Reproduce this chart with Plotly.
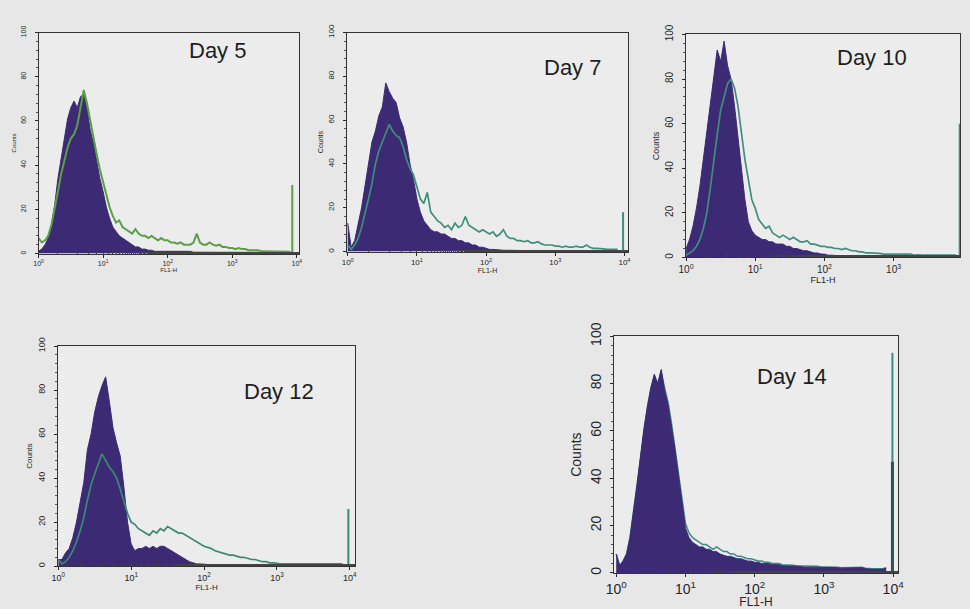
import plotly.graph_objects as go

# ---------------- data ----------------
DAYS = ["Day 5", "Day 7", "Day 10", "Day 12", "Day 14"]

# log10(FL1-H) channel positions
LOG_CH = [0.00, 0.05, 0.10, 0.15, 0.20, 0.25, 0.30, 0.35, 0.40, 0.45,
          0.50, 0.55, 0.60, 0.65, 0.70, 0.75, 0.80, 0.85, 0.90, 0.95,
          1.00, 1.05, 1.10, 1.15, 1.20, 1.25, 1.30, 1.35, 1.40, 1.45,
          1.50, 1.55, 1.60, 1.65, 1.70, 1.75, 1.80, 1.85, 1.90, 1.95,
          2.00, 2.05, 2.10, 2.15, 2.20, 2.25, 2.30, 2.35, 2.40, 2.45,
          2.50, 2.55, 2.60, 2.65, 2.70, 2.75, 2.80, 2.85, 2.90, 2.95,
          3.00, 3.05, 3.10, 3.15, 3.20, 3.25, 3.30, 3.35, 3.40, 3.45,
          3.50, 3.55, 3.60, 3.65, 3.70, 3.75, 3.80, 3.85, 3.90]

PURPLE_D5 = [1, 2, 4, 7, 13, 22, 34, 43, 52, 61,
             66, 69, 66, 71, 72, 66, 56, 50, 42, 34,
             28, 21, 16, 12, 10, 8, 7, 6, 5, 4,
             3, 3, 2, 2, 1.5, 1.5, 1, 1, 1, 1,
             1, 1, 1, 0.8, 1, 0.8, 0.8, 1, 0.6, 0.6,
             0.6, 0.5, 0.5, 0.5, 0.5, 0.5, 0.5, 0.5, 0.5, 0.5,
             0.5, 0.5, 0.5, 0.5, 0.5, 0.5, 0.5, 0.5, 0.5, 0.5,
             0.5, 0.5, 0.5, 0.5, 0.5, 0.5, 0.5, 0.5, 0.5]
GREEN_D5 = [7, 5, 6, 8, 13, 20, 28, 36, 42, 48,
            52, 54, 58, 66, 74, 68, 60, 53, 45, 38,
            32, 26, 21, 17, 14, 15, 12, 11, 10, 9,
            11, 9, 8, 8, 7, 8, 7, 6, 7, 6,
            6, 5, 5, 4.5, 5, 4, 4, 4, 5, 9,
            5, 4, 4, 5, 4, 3.5, 4, 3, 3, 2.5,
            2.5, 2, 2.5, 2, 2, 1.5, 1.5, 1.5, 1.5, 1,
            1, 1, 1, 0.8, 0.8, 0.8, 0.8, 0.8, 0.8]

PURPLE_D7 = [13, 2, 5, 12, 20, 30, 40, 50, 55, 62,
             66, 77, 73, 70, 68, 61, 57, 50, 40, 33,
             24, 18, 14, 12, 10, 9, 9, 8, 8, 7,
             6, 6, 5, 5, 4, 4, 3, 3, 2, 2,
             1.5, 1, 1, 0.8, 0.8, 0.6, 0.6, 0.5, 0.5, 0.5,
             0.5, 0.5, 0.5, 0.5, 0.5, 0.5, 0.5, 0.5, 0.5, 0.5,
             0.5, 0.5, 0.5, 0.5, 0.5, 0.5, 0.5, 0.5, 0.5, 0.5,
             0.5, 0.5, 0.5, 0.5, 0.5, 0.5, 0.5, 0.5, 0.5]
GREEN_D7 = [3, 1, 3, 6, 11, 17, 24, 31, 40, 46,
            50, 54, 58, 55, 53, 52, 48, 42, 38, 35,
            30, 24, 22, 27, 18, 16, 14, 13, 11, 12,
            10, 13, 11, 12, 16, 12, 11, 10, 9, 10,
            9, 8, 9, 7, 8, 10, 7, 6, 6, 5,
            5, 4.5, 5, 4, 4, 4.5, 3.5, 3, 3, 3,
            2.5, 2.5, 2, 2.5, 2, 2, 2.5, 2, 2, 3,
            2, 1.5, 1.5, 1.5, 1.2, 1, 1, 1, 1]

PURPLE_D10 = [4, 8, 14, 22, 32, 44, 58, 70, 82, 93,
              88, 97, 86, 80, 68, 54, 38, 26, 16, 12,
              10, 9, 8, 8, 7, 7, 6, 6, 6, 5,
              5, 4, 4, 3.5, 3, 3, 2.5, 2, 2, 1.5,
              1.5, 1, 1, 0.8, 0.8, 0.7, 0.7, 0.6, 0.6, 0.6,
              0.5, 0.5, 0.5, 0.5, 0.5, 0.5, 0.5, 0.5, 0.5, 0.5,
              0.5, 0.5, 0.5, 0.5, 0.5, 0.5, 0.5, 0.5, 0.5, 0.5,
              0.5, 0.5, 0.5, 0.5, 0.5, 0.5, 0.5, 0.5, 0.5]
GREEN_D10 = [1, 2, 3, 5, 8, 13, 20, 31, 44, 55,
             66, 72, 78, 80, 76, 68, 56, 44, 35, 26,
             22, 17, 15, 13, 14, 11, 10, 9, 10, 9,
             8, 9, 8, 7, 7, 7.5, 6, 6, 5.5, 5,
             5, 4.5, 4.5, 4, 4, 3.5, 4, 3.5, 3, 3,
             2.5, 2.5, 2, 2, 2, 1.8, 1.8, 1.5, 1.5, 1.5,
             1.5, 1.2, 1.5, 1.2, 1.2, 1.5, 1, 1.2, 1, 1,
             1.2, 1, 1, 1, 1, 1, 1, 1, 1]

PURPLE_D12 = [3, 3, 6, 8, 13, 20, 29, 38, 53, 60,
              70, 77, 82, 86, 75, 63, 56, 50, 36, 20,
              10, 7, 8, 8, 9, 8, 9, 8, 9, 9,
              8, 7, 6, 5, 4, 3, 2, 1.5, 1, 1,
              0.8, 0.7, 0.6, 0.6, 0.5, 0.5, 0.5, 0.5, 0.5, 0.5,
              0.5, 0.5, 0.5, 0.5, 0.5, 0.5, 0.5, 0.5, 0.5, 0.5,
              0.5, 0.5, 0.5, 0.5, 0.5, 0.5, 0.5, 0.5, 0.5, 0.5,
              0.5, 0.5, 0.5, 0.5, 0.5, 0.5, 0.5, 0.5, 0.5]
GREEN_D12 = [3, 1, 2, 4, 7, 11, 16, 22, 30, 37,
             42, 47, 51, 48, 45, 43, 40, 35, 29, 24,
             20, 19, 17, 16, 15, 14, 16, 15, 17, 16,
             18, 17, 16, 15, 15, 14, 13, 12, 11, 10,
             9, 8.5, 8, 7, 6.5, 6, 5.5, 5, 5, 4.5,
             4, 4, 3.5, 3, 3, 2.5, 2, 2, 1.5, 1.5,
             1.2, 1, 1, 1, 1, 1, 1, 1, 1, 1,
             1, 1, 1, 1, 1, 1, 1, 1, 1]

PURPLE_D14 = [8, 3, 5, 8, 15, 25, 37, 49, 61, 70,
              78, 84, 80, 86, 77, 71, 62, 52, 41, 29,
              19, 15, 13, 12, 11, 11, 10, 10, 9, 9,
              8, 7.5, 7, 7, 6.5, 6, 6, 5.5, 5, 5,
              4.5, 4.5, 4, 4, 4, 3.5, 3.5, 3.5, 3, 3,
              3, 3, 2.8, 2.8, 2.5, 2.5, 2.5, 2.5, 2.5, 2.5,
              2.5, 2.3, 2.3, 2.2, 2.2, 2, 2, 2.2, 2, 2,
              2, 2.2, 1.8, 1.5, 1.5, 1.5, 1.5, 1.5, 2]
GREEN_D14 = [8, 3, 5, 8, 15, 25, 37, 48, 60, 70,
             78, 83, 80, 85, 78, 72, 63, 53, 42, 31,
             21, 17, 15, 14, 13, 12, 12, 11, 10, 11,
             10, 9, 9, 8, 8, 7, 7, 6.5, 6, 6,
             5.5, 5, 5, 4.5, 4.5, 4, 4, 4, 3.5, 3.5,
             3.5, 3.2, 3, 3, 3, 2.8, 2.8, 2.8, 2.8, 2.6,
             2.6, 2.5, 2.5, 2.4, 2.4, 2.2, 2.2, 2.4, 2.2, 2.2,
             2.2, 2.4, 2, 1.8, 1.8, 1.8, 1.8, 1.8, 2.2]

# overflow spike at the top channel (log position, heights)
SPIKE_LOG = [3.93, 3.98, 3.955, 3.98, 3.99]
SPIKE_GREEN = [31, 18, 60, 26, 93]
SPIKE_PURPLE = [0, 0, 0, 0, 47]

X_TICK_VALS = [1, 10, 100, 1000, 10000]
X_TICK_TEXT = ["10<sup>0</sup>", "10<sup>1</sup>", "10<sup>2</sup>", "10<sup>3</sup>", "10<sup>4</sup>"]
Y_TICKS = [0, 20, 40, 60, 80, 100]
Y_TITLE = "Counts"
X_TITLE = "FL1-H"

PURPLES = [PURPLE_D5, PURPLE_D7, PURPLE_D10, PURPLE_D12, PURPLE_D14]
GREENS = [GREEN_D5, GREEN_D7, GREEN_D10, GREEN_D12, GREEN_D14]

# ---------------- layout / style ----------------
W, H = 970, 609
PURPLE_COL = "#3c2b74"
GREEN_COLS = ["#5a9f45", "#3f8e7a", "#3f8e7e", "#3a8a70", "#3f8a84"]
GREEN_W = [2.0, 1.7, 1.7, 1.7, 1.5]
BG = "#e7e7e7"
PLOT_BG = "#ececec"
INK = "#262626"

# pixel boxes: (left, right, top, bottom), x range (log), font size, label position
PANELS = [
    dict(box=(31, 295, 19, 246), xr=[0, 4.03], fs=7, lab=(213, 37), so=6),
    dict(box=(344, 629, 19, 244), xr=[-0.01, 4.05], fs=8, lab=(573, 55), so=6),
    dict(box=(688, 966, 21, 250), xr=[0, 3.96], fs=10, lab=(877, 45), so=5),
    dict(box=(51, 352, 341, 567), xr=[0, 4.07], fs=9, lab=(275, 388), so=6),
    dict(box=(615, 903, 331, 574), xr=[-0.03, 4.07], fs=14, lab=(795, 372), so=4),
]

fig = go.Figure()
layout = dict(
    width=W, height=H, margin=dict(l=0, r=0, t=0, b=0),
    paper_bgcolor=BG, plot_bgcolor=PLOT_BG, showlegend=False,
    font=dict(family="Liberation Sans, Arial, sans-serif", color=INK),
    annotations=[],
)

xs = [10 ** v for v in LOG_CH]

for i, p in enumerate(PANELS):
    n = i + 1
    xa = "x" if n == 1 else f"x{n}"
    ya = "y" if n == 1 else f"y{n}"
    gcol = GREEN_COLS[i]
    purple = go.Scatter(x=xs, y=PURPLES[i], mode="lines", fill="tozeroy",
                        fillcolor=PURPLE_COL, line=dict(color=PURPLE_COL, width=1),
                        xaxis=xa, yaxis=ya, hoverinfo="skip")
    green = go.Scatter(x=xs, y=GREENS[i], mode="lines",
                       line=dict(color=gcol, width=GREEN_W[i]),
                       xaxis=xa, yaxis=ya, hoverinfo="skip")
    sx = 10 ** SPIKE_LOG[i]
    spike_g = go.Scatter(x=[sx, sx], y=[0, SPIKE_GREEN[i]], mode="lines",
                         line=dict(color=gcol, width=2), xaxis=xa, yaxis=ya, hoverinfo="skip")
    traces = [purple, green, spike_g]
    if n == 5:
        traces = [green, purple, spike_g]
    if SPIKE_PURPLE[i] > 0:
        traces.append(go.Scatter(x=[sx, sx], y=[0, SPIKE_PURPLE[i]], mode="lines",
                                 line=dict(color="#2f4f5a", width=3),
                                 xaxis=xa, yaxis=ya, hoverinfo="skip"))
    for t in traces:
        fig.add_trace(t)

    l, r, t, b = p["box"]
    fs = p["fs"]
    layout["xaxis" if n == 1 else f"xaxis{n}"] = dict(
        domain=[l / W, r / W], anchor=ya, type="log", range=p["xr"],
        tickvals=X_TICK_VALS, ticktext=X_TICK_TEXT, ticks="outside", ticklen=3,
        tickcolor=INK, tickfont=dict(size=fs, color=INK),
        showline=True, mirror=True, linecolor="#333333", linewidth=1,
        showgrid=False, zeroline=False,
        minor=dict(ticks="inside", ticklen=2, tickcolor="#444444", showgrid=False),
        title=dict(text=X_TITLE, font=dict(size=fs - 1 if n < 5 else 12, color=INK), standoff=0),
    )
    layout["yaxis" if n == 1 else f"yaxis{n}"] = dict(
        domain=[1 - b / H, 1 - t / H], anchor=xa, range=[0, 100],
        tickvals=Y_TICKS, tickangle=-90, ticks="outside", ticklen=3,
        ticklabelstandoff=p["so"],
        tickcolor=INK, tickfont=dict(size=fs, color=INK),
        showline=True, mirror=True, linecolor="#333333", linewidth=1,
        showgrid=False, zeroline=False,
        minor=dict(ticks="outside", ticklen=2, dtick=4, tickcolor="#555555", showgrid=False),
        title=dict(text=Y_TITLE, font=dict(size=fs - 1 if n < 5 else 14, color=INK), standoff=2),
    )
    lx, ly = p["lab"]
    layout["annotations"].append(dict(
        text=DAYS[i], xref="paper", yref="paper", x=lx / W, y=1 - ly / H,
        showarrow=False, xanchor="center", yanchor="middle",
        font=dict(size=22, color="#1e1e1e", family="Liberation Sans, Arial, sans-serif"),
    ))

fig.update_layout(**layout)
fig.write_html("out.html",
               config={"displayModeBar": False},
               post_script="document.body.style.margin='0';document.body.style.padding='0';"
                           "document.body.style.overflow='hidden';"
                           "document.body.style.background='" + BG + "';")
